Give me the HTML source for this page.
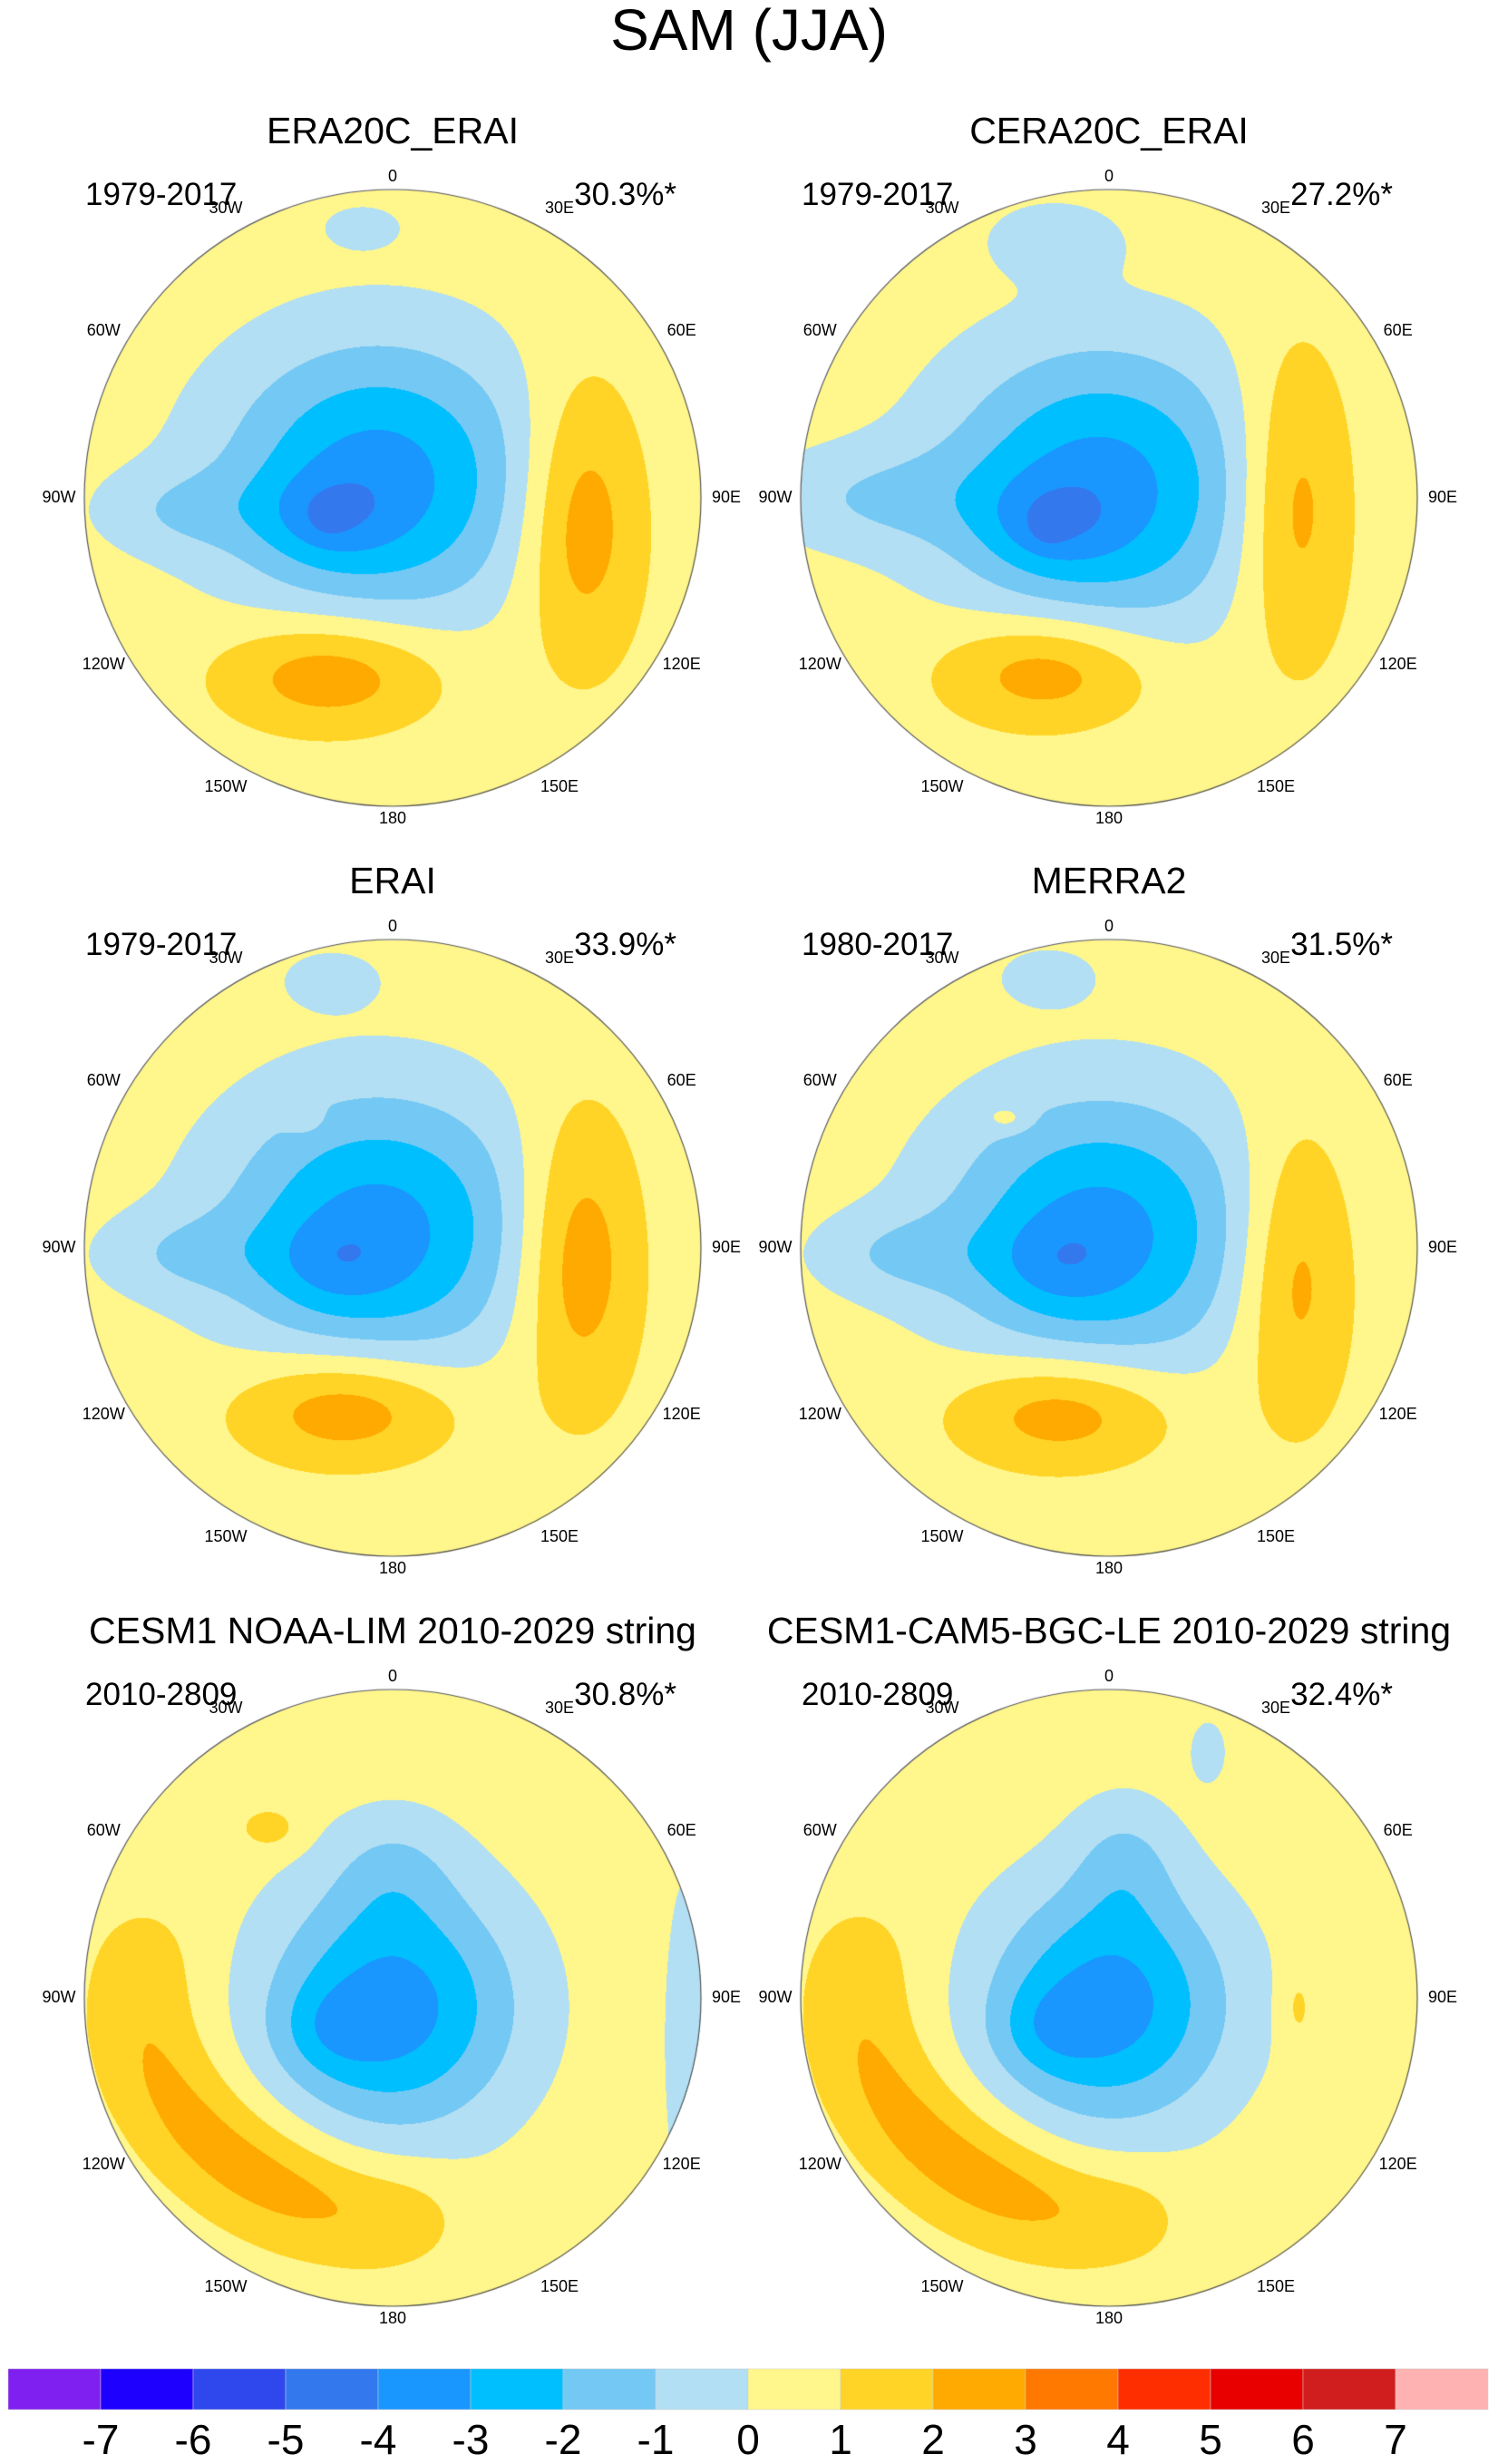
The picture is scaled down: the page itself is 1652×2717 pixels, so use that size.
<!DOCTYPE html>
<html><head><meta charset="utf-8">
<style>
body{margin:0;background:#fff;width:1652px;height:2717px;position:relative;overflow:hidden;font-family:"Liberation Sans",sans-serif;}
.t{position:absolute;white-space:nowrap;color:#000;}
canvas{position:absolute;}
</style></head><body>
<div class="t" style="left:0;width:1652px;text-align:center;top:-4px;font-size:64px;">SAM (JJA)</div>
<div id="root"></div>
<svg id="cb" width="1652" height="2717" style="position:absolute;left:0;top:0;pointer-events:none"></svg>
<script>
// colour levels
const levels=[-7,-6,-5,-4,-3,-2,-1,0,1,2,3,4,5,6,7];
const colors=["#8020F0","#1E00FF","#2E48EE","#3478EE","#1A96FF","#00BFFF","#74C8F4","#B2DFF3","#FFF68C","#FFD426","#FFAA00","#FF7800","#FF2E00","#E80000","#D01E1E","#FFB2B2"];
const panelTitles=["ERA20C_ERAI","CERA20C_ERAI","ERAI","MERRA2","CESM1 NOAA-LIM 2010-2029 string","CESM1-CAM5-BGC-LE 2010-2029 string"];
const panelYears=["1979-2017","1979-2017","1979-2017","1980-2017","2010-2809","2010-2809"];
const panelPct=["30.3%*","27.2%*","33.9%*","31.5%*","30.8%*","32.4%*"];
const lonLabels=["0","30E","60E","90E","120E","150E","180","150W","120W","90W","60W","30W"];
// anomaly components per panel: [u, v, amplitude, sigmaX, sigmaY]
const field0=[[-0.05,-0.06,-4.0,0.35,0.31],[-0.22,0.06,-1.3,0.14,0.1],[-0.7,0.04,-1.1,0.2,0.1],[-0.21,0.06,-0.6,0.04,0.04],[0.61,0.07,2.4,0.14,0.32],[-0.2,0.57,2.4,0.25,0.13],[-0.1,-0.88,-1.2,0.08,0.045]];
const field1=[[-0.03,-0.03,-4.0,0.35,0.32],[-0.2,0.08,-1.3,0.14,0.1],[-0.78,0.0,-1.3,0.28,0.12],[-0.2,0.1,-0.6,0.04,0.04],[0.6,0.02,2.3,0.13,0.35],[-0.2,0.56,2.4,0.24,0.13],[-0.18,-0.84,-1.3,0.14,0.08]];
const field2=[[-0.05,-0.06,-3.9,0.35,0.31],[-0.2,0.05,-1.0,0.14,0.1],[-0.7,0.02,-1.1,0.2,0.1],[0.6,0.03,2.5,0.14,0.33],[-0.15,0.52,2.5,0.25,0.13],[-0.2,-0.87,-1.3,0.1,0.06],[-0.29,-0.42,1.0,0.04,0.03]];
const field3=[[-0.03,-0.05,-3.9,0.35,0.31],[-0.18,0.05,-1.0,0.14,0.1],[-0.7,0.02,-1.2,0.2,0.1],[0.6,0.08,2.2,0.13,0.33],[-0.15,0.53,2.4,0.25,0.13],[-0.2,-0.88,-1.3,0.1,0.06],[-0.33,-0.42,1.0,0.05,0.03]];
const field4=[[0.0,0.03,-4.0,0.28,0.28],[-0.2,0.1,-1.0,0.12,0.1],[0.0,-0.42,-1.0,0.14,0.14],[-0.8,-0.15,0.7,0.13,0.13],[-0.82,0.05,0.9,0.13,0.13],[-0.76,0.25,1.1,0.13,0.13],[-0.64,0.42,1.25,0.13,0.13],[-0.48,0.55,1.3,0.13,0.13],[-0.3,0.64,1.25,0.13,0.13],[-0.1,0.7,1.0,0.13,0.13],[0.08,0.7,0.7,0.12,0.12],[-0.4,-0.55,1.1,0.07,0.05],[0.95,0.15,-1.2,0.05,0.4]];
const field5=[[0.0,0.02,-4.0,0.27,0.27],[-0.2,0.1,-1.0,0.12,0.1],[0.05,-0.45,-1.2,0.12,0.15],[-0.8,-0.15,0.7,0.13,0.13],[-0.82,0.05,0.9,0.13,0.13],[-0.76,0.25,1.1,0.13,0.13],[-0.64,0.42,1.25,0.13,0.13],[-0.48,0.55,1.3,0.13,0.13],[-0.3,0.64,1.25,0.13,0.13],[-0.1,0.7,1.0,0.13,0.13],[0.1,0.7,0.7,0.12,0.12],[0.61,0.03,0.9,0.04,0.1],[0.32,-0.8,-1.2,0.04,0.07]];
const fields=[field0,field1,field2,field3,field4,field5];
const base=0.5;

const R=340, cxs=[433,1223], cys=[549,1376,2203];
const root=document.getElementById('root');
const rgb=colors.map(c=>[parseInt(c.substr(1,2),16),parseInt(c.substr(3,2),16),parseInt(c.substr(5,2),16)]);
function lvlIndex(v){let i=0;while(i<levels.length&&v>=levels[i])i++;return i;}
fields.forEach((f,p)=>{
  const cx=cxs[p%2], cy=cys[Math.floor(p/2)];
  const t=document.createElement('div');t.className='t';
  
  
  t.style.cssText=`left:${cx-500}px;width:1000px;text-align:center;top:${cy-428}px;font-size:41px;`;t.textContent=panelTitles[p];root.appendChild(t);
  const y=document.createElement('div');y.className='t';
  
  
  y.style.cssText=`left:${cx-339}px;top:${cy-354}px;font-size:35px;`;y.textContent=panelYears[p];root.appendChild(y);
  const q=document.createElement('div');q.className='t';
  
  
  q.style.cssText=`right:${1652-(cx+313)}px;top:${cy-354}px;font-size:35px;`;q.textContent=panelPct[p];root.appendChild(q);
  const c=document.createElement('canvas');
  
  
  const S=2*R+4;c.width=S;c.height=S;c.style.left=(cx-R-2)+'px';c.style.top=(cy-R-2)+'px';
  root.appendChild(c);
  const g=c.getContext('2d');const img=g.createImageData(S,S);const d=img.data;
  for(let j=0;j<S;j++)for(let i=0;i<S;i++){
    const u=(i-R-2)/R,v=(j-R-2)/R;if(u*u+v*v>1)continue;
    let val=base;for(const a of f){const dx=(u-a[0])/a[3],dy=(v-a[1])/a[4];val+=a[2]*Math.exp(-0.5*(dx*dx+dy*dy));}
    const k=(j*S+i)*4,col=rgb[lvlIndex(val)];d[k]=col[0];d[k+1]=col[1];d[k+2]=col[2];d[k+3]=255;}
  g.putImageData(img,0,0);
  g.beginPath();g.arc(R+2,R+2,R,0,Math.PI*2);g.strokeStyle='#555';g.lineWidth=1.2;g.stroke();
  lonLabels.forEach((L,k)=>{
    const th=k*Math.PI/6, rr=(k%6===0)?354:368;
    const e=document.createElement('div');e.className='t';
    
    
    const lx=cx+rr*Math.sin(th), ly=cy-rr*Math.cos(th);
    e.style.cssText=`left:${lx-40}px;width:80px;text-align:center;top:${ly-11}px;font-size:18px;`;e.textContent=L;root.appendChild(e);
  });
});
// colorbar
const svg=document.getElementById('cb');const ns='http://www.w3.org/2000/svg';
const x0=9,bw=102,y0=2612,bh=45;
colors.forEach((col,i)=>{const r=document.createElementNS(ns,'rect');
  
  
  r.setAttribute('x',x0+i*bw);r.setAttribute('y',y0);r.setAttribute('width',bw);r.setAttribute('height',bh);r.setAttribute('fill',col);r.setAttribute('stroke','#ccc');r.setAttribute('stroke-width','0.5');svg.appendChild(r);});
levels.forEach((l,i)=>{const t=document.createElementNS(ns,'text');
  
  
  t.setAttribute('x',x0+(i+1)*bw);t.setAttribute('y',2706);t.setAttribute('text-anchor','middle');t.setAttribute('font-size','46');t.setAttribute('font-family','Liberation Sans, sans-serif');t.textContent=l;svg.appendChild(t);});
</script>
</body></html>
